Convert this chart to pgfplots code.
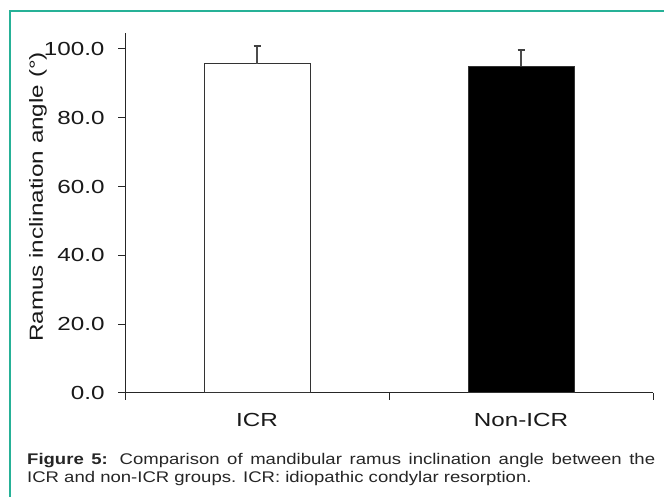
\documentclass[border=0pt]{standalone}
\usepackage{pgfplots}
\pgfplotsset{compat=1.18}
\usepackage{fontspec}
\setmainfont{Liberation Sans}
\newfontfamily\chartfont{Liberation Sans}[FakeStretch=1.28]
\newfontfamily\capfont{Liberation Sans}[FakeStretch=1.2]
\definecolor{frameteal}{RGB}{38,177,151}
\begin{document}
\begin{tikzpicture}[x=1bp,y=1bp]
\useasboundingbox (0,0) rectangle (664,497);
\fill[white] (0,0) rectangle (664,497);
\draw[frameteal, line width=1.5bp] (10,0) -- (10,486) -- (664,486);
\begin{axis}[
  at={(125bp,104bp)}, anchor=south west,
  scale only axis, width=528bp, height=360bp,
  xmin=-0.5, xmax=1.5, ymin=0, ymax=104.65,
  axis x line*=bottom, axis y line*=left,
  axis line style={line width=1bp, color=black!85, -},
  xtick={-0.5,0.5,1.5}, xticklabels={},
  extra x ticks={0,1}, extra x tick labels={ICR,Non-ICR},
  extra x tick style={major tick length=0pt, tick label style={yshift=-17bp}},
  ytick={0,20,...,100},
  tick align=outside, major tick length=7bp,
  tick style={line width=1bp, color=black!85},
  yticklabel style={xshift=-10bp, /pgf/number format/fixed, /pgf/number format/fixed zerofill, /pgf/number format/precision=1},
  /pgf/number format/assume math mode=true,
  tick label style={font=\chartfont\fontsize{19}{22}\selectfont, text=black!90},
  ybar, bar width=106bp, bar shift=0pt,
  clip=false,
]
\addplot[draw=black!80, fill=white, line width=1bp,
  error bars/.cd, y dir=plus, y explicit,
  error bar style={line width=1.3bp, color=black!70},
  error mark=|,
  error mark options={mark size=3.5bp, line width=2bp, black!75}]
  coordinates {(0,95.7) +- (0,5.3)};
\addplot[draw=black!80, fill=black, line width=1bp,
  error bars/.cd, y dir=plus, y explicit,
  error bar style={line width=1.3bp, color=black!70},
  error mark=|,
  error mark options={mark size=3.5bp, line width=2bp, black!75}]
  coordinates {(1,95.05) +- (0,4.6)};
\end{axis}
\node[rotate=90, font=\chartfont\fontsize{19}{22}\selectfont, text=black!90] at (38,300) {Ramus inclination angle (°)};
\node[anchor=base west, inner sep=0pt, font=\capfont\fontsize{15.5}{18}\selectfont, text=black!85] at (27,32) {\makebox[628bp][s]{\textbf{Figure 5:} Comparison of mandibular ramus inclination angle between the}};
\node[anchor=base west, inner sep=0pt, font=\capfont\fontsize{15.5}{18}\selectfont, text=black!85] at (27,14) {ICR and non-ICR groups. ICR: idiopathic condylar resorption.};
\end{tikzpicture}
\end{document}
